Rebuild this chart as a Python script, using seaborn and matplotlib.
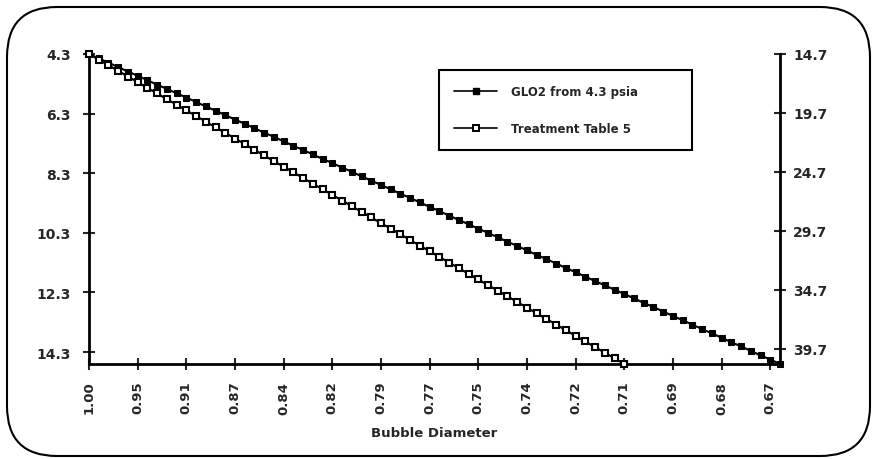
import numpy as np
import matplotlib.pyplot as plt
import seaborn as sns
from matplotlib.patches import FancyBboxPatch
from matplotlib.lines import Line2D

# pressure (psia) at each step
glo2_psia = [4.30, 4.45, 4.59, 4.74, 4.89, 5.03, 5.18, 5.33, 5.47, 5.62,
             5.76, 5.91, 6.06, 6.20, 6.35, 6.50, 6.64, 6.79, 6.94, 7.08,
             7.23, 7.38, 7.52, 7.67, 7.82, 7.96, 8.11, 8.25, 8.40, 8.55,
             8.69, 8.84, 8.99, 9.13, 9.28, 9.43, 9.57, 9.72, 9.87, 10.01,
             10.16, 10.30, 10.45, 10.60, 10.74, 10.89, 11.04, 11.18, 11.33, 11.48,
             11.62, 11.77, 11.92, 12.06, 12.21, 12.35, 12.50, 12.65, 12.79, 12.94,
             13.09, 13.23, 13.38, 13.53, 13.67, 13.82, 13.97, 14.11, 14.26, 14.41,
             14.55, 14.70]
tt5_psia = [14.70, 15.18, 15.66, 16.13, 16.61, 17.09, 17.57, 18.05, 18.53, 19.00,
            19.48, 19.96, 20.44, 20.92, 21.39, 21.87, 22.35, 22.83, 23.31, 23.79,
            24.26, 24.74, 25.22, 25.70, 26.18, 26.66, 27.13, 27.61, 28.09, 28.57,
            29.05, 29.52, 30.00, 30.48, 30.96, 31.44, 31.92, 32.39, 32.87, 33.35,
            33.83, 34.31, 34.78, 35.26, 35.74, 36.22, 36.70, 37.18, 37.65, 38.13,
            38.61, 39.09, 39.57, 40.04, 40.52, 41.00]
diam_labels = ['1.00', '0.95', '0.91', '0.87', '0.84', '0.82', '0.79', '0.77',
               '0.75', '0.74', '0.72', '0.71', '0.69', '0.68', '0.67']
left_ticks = [4.3, 6.3, 8.3, 10.3, 12.3, 14.3]
right_ticks = [14.7, 19.7, 24.7, 29.7, 34.7, 39.7]
series_names = ['GLO2 from 4.3 psia', 'Treatment Table 5']

sns.set_style('white')
plt.rcParams['font.family'] = ['DejaVu Sans']
plt.rcParams['font.weight'] = 'bold'

fig = plt.figure(figsize=(8.76, 4.6), dpi=100)
ax = fig.add_axes([89 / 876, 1 - 365 / 460, 691 / 876, 310 / 460])
ax2 = ax.twinx()

sns.lineplot(x=np.arange(len(glo2_psia)), y=glo2_psia, ax=ax, color='black',
             lw=1.5, marker='s', markersize=5, markerfacecolor='black',
             markeredgecolor='black', clip_on=False)
sns.lineplot(x=np.arange(len(tt5_psia)), y=tt5_psia, ax=ax2, color='black',
             lw=1.5, marker='s', markersize=5, markerfacecolor='white',
             markeredgecolor='black', markeredgewidth=1.5, clip_on=False)

ax.set_xlim(0, len(glo2_psia) - 1)
ax.set_ylim(14.7, 4.3)
ax2.set_ylim(41.0, 14.7)

ax.set_xticks(range(0, 5 * len(diam_labels), 5))
ax.set_xticklabels(diam_labels, rotation=90)
ax.set_yticks(left_ticks)
ax.set_yticklabels([f'{v:.1f}' for v in left_ticks])
ax2.set_yticks(right_ticks)
ax2.set_yticklabels([f'{v:.1f}' for v in right_ticks])

ax.tick_params(axis='x', direction='inout', length=8, width=1.5, pad=8,
               labelsize=9.5, bottom=True)
ax.tick_params(axis='y', direction='inout', length=8, width=1.5, pad=9,
               labelsize=10, left=True)
ax2.tick_params(axis='y', direction='inout', length=8, width=1.5, pad=5.5,
                labelsize=10, right=True)

for a in (ax, ax2):
    for s in a.spines.values():
        s.set_visible(False)
ax.spines['left'].set_visible(True)
ax.spines['bottom'].set_visible(True)
ax2.spines['right'].set_visible(True)
for s in (ax.spines['left'], ax.spines['bottom'], ax2.spines['right']):
    s.set_linewidth(2)
    s.set_color('black')

ax.set_xlabel('Bubble Diameter', fontsize=9.5, fontweight='bold', labelpad=9)
ax.set_ylabel('')
ax2.set_ylabel('')

handles = [Line2D([], [], color='black', lw=1.2, marker='s', ms=5, mfc='black', mec='black'),
           Line2D([], [], color='black', lw=1.2, marker='s', ms=5, mfc='white', mec='black', mew=1.4)]
leg = ax2.legend(handles, series_names, loc='upper left',
                 bbox_to_anchor=(0.498, 0.703, 0.383, 0.265), mode='expand',
                 prop={'size': 8.5, 'weight': 'bold'}, frameon=True, fancybox=False,
                 edgecolor='black', framealpha=1, handlelength=3.6,
                 handletextpad=1.2, labelspacing=2.0, borderpad=1.3)
leg.get_frame().set_linewidth(1.5)

# rounded frame around the whole chart
fig.patches.append(FancyBboxPatch((0.07, 0.03), 8.63, 4.49,
                                  boxstyle='round,pad=0,rounding_size=0.5',
                                  transform=fig.dpi_scale_trans, fill=False,
                                  lw=1.5, ec='black'))

fig.savefig('out.png', dpi=100)
